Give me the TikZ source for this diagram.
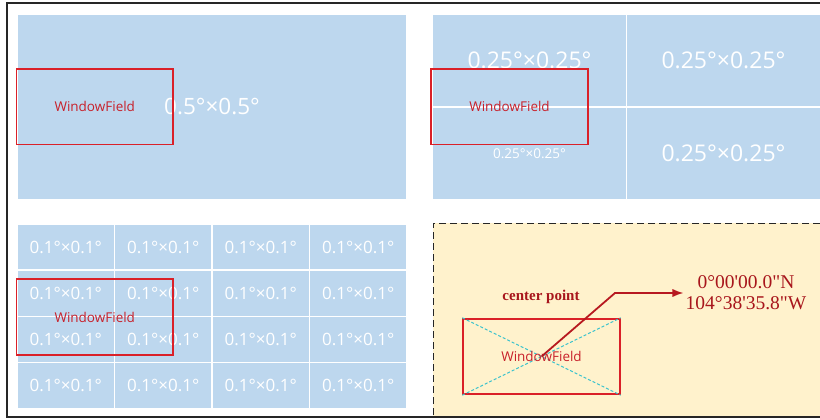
\documentclass[tikz,border=0pt]{standalone}
\usepackage{fontspec}
\setmainfont{Liberation Serif}
\setsansfont{Open Sans}
\newfontfamily\geofont{Liberation Serif}[Ligatures=TeXOff]
\usetikzlibrary{arrows.meta,positioning}

\definecolor{tileblue}{HTML}{BDD7EE}
\definecolor{paper}{HTML}{FFF2CC}
\definecolor{wfred}{HTML}{DA2028}
\definecolor{wftext}{HTML}{C8202A}
\definecolor{darkred}{HTML}{A8161C}
\definecolor{diag}{HTML}{3CC3CC}

\begin{document}
\begin{tikzpicture}[x=1pt,y=-1pt,>=Latex,
  tile/.style={draw=white,line width=1.5pt,fill=tileblue,text=white,
    inner sep=0pt,outer sep=0pt,font=\sffamily},
  window/.style={draw=wfred,line width=1.9pt,inner sep=0pt,
    minimum width=156.5pt,minimum height=75.5pt,text=wftext,
    font=\sffamily\fontsize{13.5}{13.5}\selectfont},
  diagonal/.style={draw=diag,line width=1pt,dash pattern=on 3pt off 2pt},
  pointer/.style={->,draw=darkred!70!wfred,line width=1.8pt},
  geo/.style={text=darkred,align=center,inner sep=2pt,
    font=\geofont\fontsize{19.5}{21}\selectfont}]
  \useasboundingbox (0,0) rectangle (820,420);
  \draw[line width=1.6pt,black!85] (820,3) -- (7,3) -- (7,417) -- (820,417);

  % one 0.5 degree tile
  \node[tile,minimum width=390pt,minimum height=186pt,
    font=\sffamily\fontsize{22.5}{22.5}\selectfont] (half) at (212,107)
    {0.5°×0.5°};
  \node[window] (wfa) at (94.75,106.75) {WindowField};

  % four 0.25 degree tiles
  \begin{scope}[every node/.append style={tile,minimum width=194pt,
      minimum height=93pt,font=\sffamily\fontsize{23}{23}\selectfont}]
    \node (qnw) at (529.5,60.5) {0.25°×0.25°};
    \node (qne) at (723.5,60.5) {0.25°×0.25°};
    \node[font=\sffamily\fontsize{13.5}{13.5}\selectfont] (qsw)
      at (529.5,153.5) {0.25°×0.25°};
    \node (qse) at (723.5,153.5) {0.25°×0.25°};
  \end{scope}
  \node[window] (wfb) at (509.5,106.75) {WindowField};

  % 4 x 4 grid of 0.1 degree tiles
  \foreach \r in {0,...,3}
    \foreach \c in {0,...,3}
      \node[tile,minimum width=97.5pt,minimum height=46.25pt,
        font=\sffamily\fontsize{17}{17}\selectfont] (cell-\r-\c)
        at (65.75+97.5*\c,247.1+46.25*\r) {0.1°×0.1°};
  \node[window] (wfc) at (94.75,317) {WindowField};

  % centre point of the window field
  \fill[paper] (433,223) rectangle (820,416);
  \draw[black!85,line width=1pt,dash pattern=on 7pt off 4pt]
    (820,223) -- (433,223) -- (433,417);
  \node[window] (wfd) at (541.5,356.5) {};
  \draw[diagonal] (wfd.north west) -- (wfd.south east);
  \draw[diagonal] (wfd.south west) -- (wfd.north east);
  \node[text=wftext,font=\sffamily\fontsize{13.5}{13.5}\selectfont] (wfdlabel)
    at (wfd.center) {WindowField};
  \node[text=darkred,font=\bfseries\fontsize{15}{15}\selectfont] (centre)
    at (541,297) {center point};
  \node[geo] (coord) at (746,292.5) {0°00'00.0"N\\104°38'35.8"W};
  \coordinate (bend) at (615,293);
  \draw[pointer] (wfd.center) -- (bend) -- (bend-|coord.west);
\end{tikzpicture}
\end{document}
